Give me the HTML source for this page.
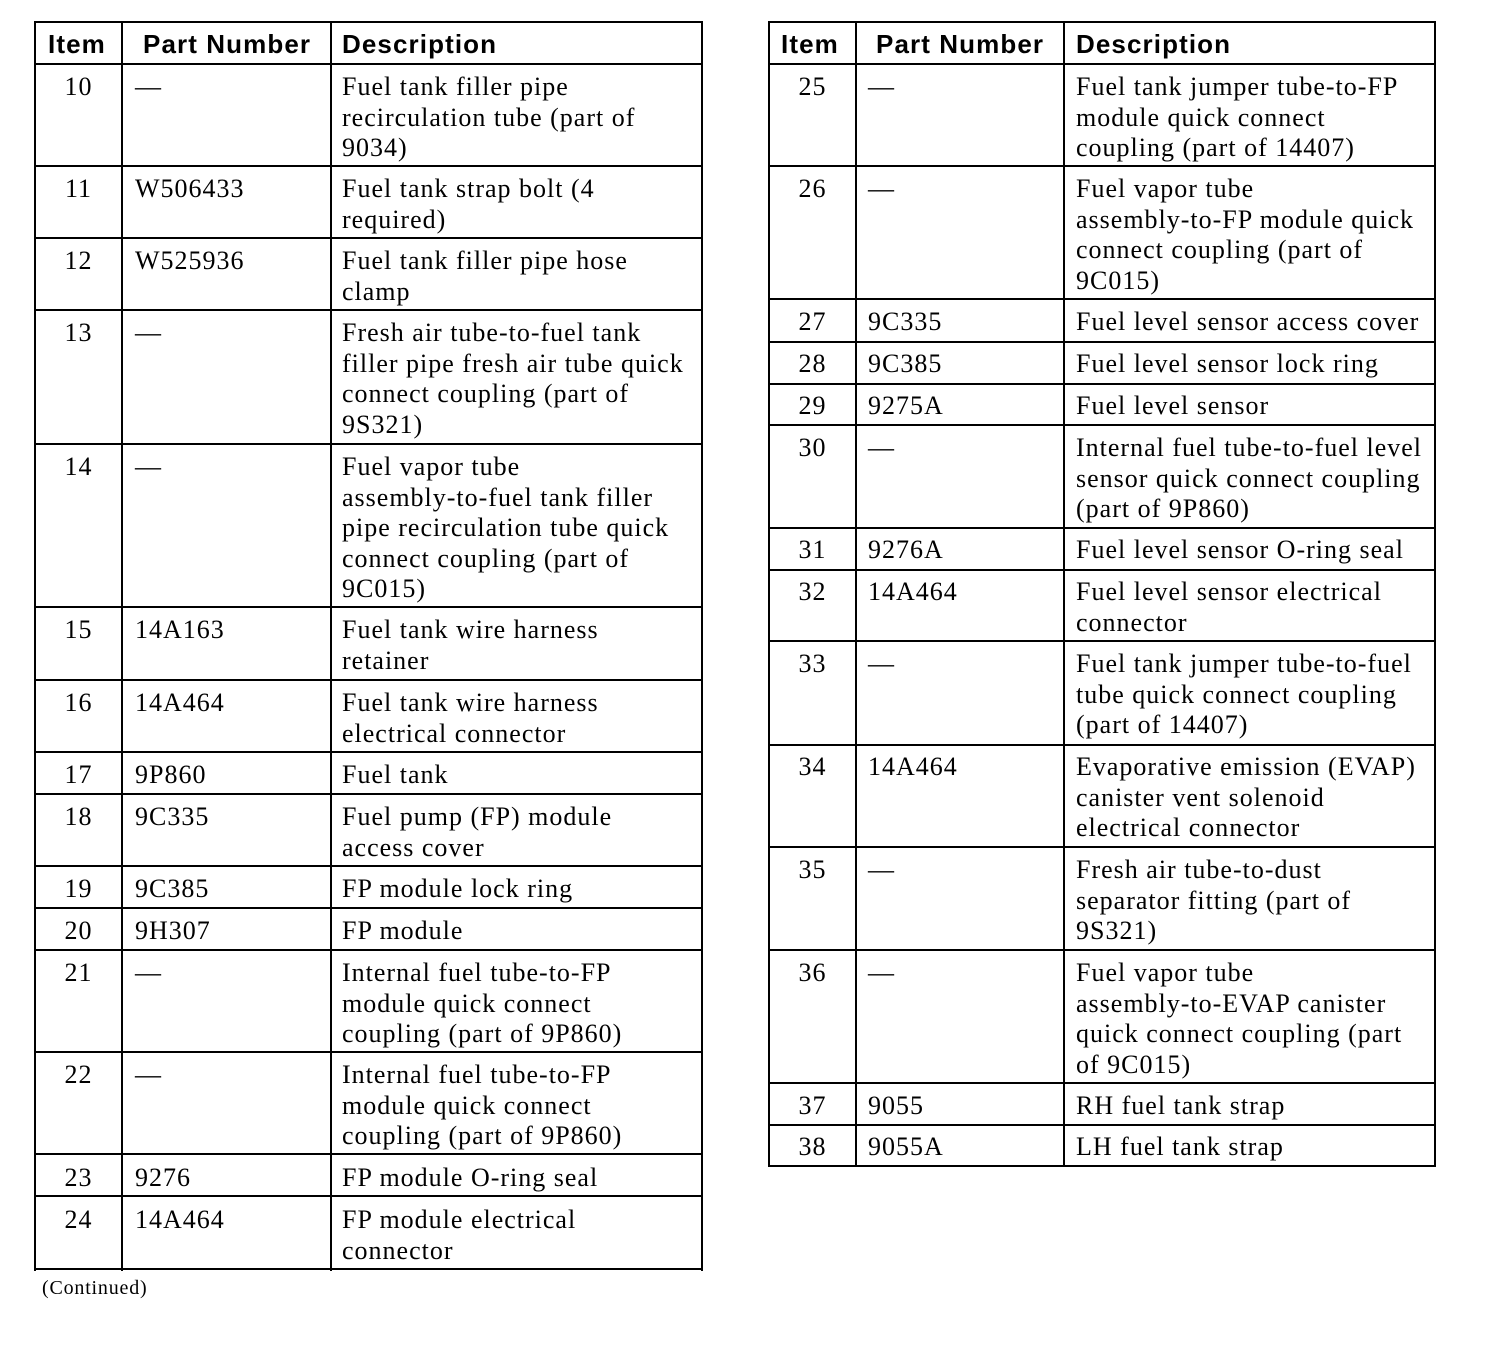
<!DOCTYPE html>
<html><head><meta charset="utf-8">
<style>
body{margin:0;width:1504px;height:1350px;background:#fff;position:relative;overflow:hidden;font-family:"Liberation Serif",serif;color:#000}
.h{position:absolute;height:2px;background:#000}
.v{position:absolute;width:2px;background:#000}
.t{position:absolute;font-size:26px;line-height:30.5px;white-space:nowrap;letter-spacing:1px}
.i{text-align:center;width:87px}
.b{font-family:"Liberation Sans",sans-serif;font-weight:bold;font-size:26px;line-height:30px;letter-spacing:1.1px}
</style></head><body>
<div class="v" style="left:34px;top:21px;height:1250px"></div>
<div class="v" style="left:121px;top:21px;height:1250px"></div>
<div class="v" style="left:330px;top:21px;height:1250px"></div>
<div class="v" style="left:701px;top:21px;height:1250px"></div>
<div class="h" style="left:34px;width:669px;top:21px"></div>
<div class="h" style="left:34px;width:669px;top:63px"></div>
<div class="h" style="left:34px;width:669px;top:165px"></div>
<div class="h" style="left:34px;width:669px;top:237px"></div>
<div class="h" style="left:34px;width:669px;top:309px"></div>
<div class="h" style="left:34px;width:669px;top:443px"></div>
<div class="h" style="left:34px;width:669px;top:606px"></div>
<div class="h" style="left:34px;width:669px;top:679px"></div>
<div class="h" style="left:34px;width:669px;top:751px"></div>
<div class="h" style="left:34px;width:669px;top:793px"></div>
<div class="h" style="left:34px;width:669px;top:865px"></div>
<div class="h" style="left:34px;width:669px;top:907px"></div>
<div class="h" style="left:34px;width:669px;top:949px"></div>
<div class="h" style="left:34px;width:669px;top:1051px"></div>
<div class="h" style="left:34px;width:669px;top:1153px"></div>
<div class="h" style="left:34px;width:669px;top:1195px"></div>
<div class="h" style="left:34px;width:669px;top:1268px"></div>
<div class="v" style="left:768px;top:21px;height:1146px"></div>
<div class="v" style="left:855px;top:21px;height:1146px"></div>
<div class="v" style="left:1063px;top:21px;height:1146px"></div>
<div class="v" style="left:1434px;top:21px;height:1146px"></div>
<div class="h" style="left:768px;width:668px;top:21px"></div>
<div class="h" style="left:768px;width:668px;top:63px"></div>
<div class="h" style="left:768px;width:668px;top:165px"></div>
<div class="h" style="left:768px;width:668px;top:298px"></div>
<div class="h" style="left:768px;width:668px;top:341px"></div>
<div class="h" style="left:768px;width:668px;top:383px"></div>
<div class="h" style="left:768px;width:668px;top:424px"></div>
<div class="h" style="left:768px;width:668px;top:527px"></div>
<div class="h" style="left:768px;width:668px;top:569px"></div>
<div class="h" style="left:768px;width:668px;top:640px"></div>
<div class="h" style="left:768px;width:668px;top:744px"></div>
<div class="h" style="left:768px;width:668px;top:846px"></div>
<div class="h" style="left:768px;width:668px;top:949px"></div>
<div class="h" style="left:768px;width:668px;top:1082px"></div>
<div class="h" style="left:768px;width:668px;top:1124px"></div>
<div class="h" style="left:768px;width:668px;top:1165px"></div>

<div class="t b" style="left:48px;top:29px">Item</div>
<div class="t b" style="left:143px;top:29px">Part Number</div>
<div class="t b" style="left:342px;top:29px">Description</div>
<div class="t b" style="left:781px;top:29px">Item</div>
<div class="t b" style="left:876px;top:29px">Part Number</div>
<div class="t b" style="left:1076px;top:29px">Description</div>

<div class="t i" style="left:35px;top:72px">10</div><div class="t" style="left:135px;top:72px">—</div><div class="t" style="left:342px;top:72px">Fuel tank filler pipe<br>recirculation tube (part of<br>9034)</div>
<div class="t i" style="left:35px;top:174px">11</div><div class="t" style="left:135px;top:174px">W506433</div><div class="t" style="left:342px;top:174px">Fuel tank strap bolt (4<br>required)</div>
<div class="t i" style="left:35px;top:246px">12</div><div class="t" style="left:135px;top:246px">W525936</div><div class="t" style="left:342px;top:246px">Fuel tank filler pipe hose<br>clamp</div>
<div class="t i" style="left:35px;top:318px">13</div><div class="t" style="left:135px;top:318px">—</div><div class="t" style="left:342px;top:318px">Fresh air tube-to-fuel tank<br>filler pipe fresh air tube quick<br>connect coupling (part of<br>9S321)</div>
<div class="t i" style="left:35px;top:452px">14</div><div class="t" style="left:135px;top:452px">—</div><div class="t" style="left:342px;top:452px">Fuel vapor tube<br>assembly-to-fuel tank filler<br>pipe recirculation tube quick<br>connect coupling (part of<br>9C015)</div>
<div class="t i" style="left:35px;top:615px">15</div><div class="t" style="left:135px;top:615px">14A163</div><div class="t" style="left:342px;top:615px">Fuel tank wire harness<br>retainer</div>
<div class="t i" style="left:35px;top:688px">16</div><div class="t" style="left:135px;top:688px">14A464</div><div class="t" style="left:342px;top:688px">Fuel tank wire harness<br>electrical connector</div>
<div class="t i" style="left:35px;top:760px">17</div><div class="t" style="left:135px;top:760px">9P860</div><div class="t" style="left:342px;top:760px">Fuel tank</div>
<div class="t i" style="left:35px;top:802px">18</div><div class="t" style="left:135px;top:802px">9C335</div><div class="t" style="left:342px;top:802px">Fuel pump (FP) module<br>access cover</div>
<div class="t i" style="left:35px;top:874px">19</div><div class="t" style="left:135px;top:874px">9C385</div><div class="t" style="left:342px;top:874px">FP module lock ring</div>
<div class="t i" style="left:35px;top:916px">20</div><div class="t" style="left:135px;top:916px">9H307</div><div class="t" style="left:342px;top:916px">FP module</div>
<div class="t i" style="left:35px;top:958px">21</div><div class="t" style="left:135px;top:958px">—</div><div class="t" style="left:342px;top:958px">Internal fuel tube-to-FP<br>module quick connect<br>coupling (part of 9P860)</div>
<div class="t i" style="left:35px;top:1060px">22</div><div class="t" style="left:135px;top:1060px">—</div><div class="t" style="left:342px;top:1060px">Internal fuel tube-to-FP<br>module quick connect<br>coupling (part of 9P860)</div>
<div class="t i" style="left:35px;top:1163px">23</div><div class="t" style="left:135px;top:1163px">9276</div><div class="t" style="left:342px;top:1163px">FP module O-ring seal</div>
<div class="t i" style="left:35px;top:1205px">24</div><div class="t" style="left:135px;top:1205px">14A464</div><div class="t" style="left:342px;top:1205px">FP module electrical<br>connector</div>
<div class="t" style="left:42px;top:1276px;font-size:20px;line-height:24px;letter-spacing:0.8px">(Continued)</div>

<div class="t i" style="left:769px;top:72px">25</div><div class="t" style="left:868px;top:72px">—</div><div class="t" style="left:1076px;top:72px">Fuel tank jumper tube-to-FP<br>module quick connect<br>coupling (part of 14407)</div>
<div class="t i" style="left:769px;top:174px">26</div><div class="t" style="left:868px;top:174px">—</div><div class="t" style="left:1076px;top:174px">Fuel vapor tube<br>assembly-to-FP module quick<br>connect coupling (part of<br>9C015)</div>
<div class="t i" style="left:769px;top:307px">27</div><div class="t" style="left:868px;top:307px">9C335</div><div class="t" style="left:1076px;top:307px">Fuel level sensor access cover</div>
<div class="t i" style="left:769px;top:349px">28</div><div class="t" style="left:868px;top:349px">9C385</div><div class="t" style="left:1076px;top:349px">Fuel level sensor lock ring</div>
<div class="t i" style="left:769px;top:391px">29</div><div class="t" style="left:868px;top:391px">9275A</div><div class="t" style="left:1076px;top:391px">Fuel level sensor</div>
<div class="t i" style="left:769px;top:433px">30</div><div class="t" style="left:868px;top:433px">—</div><div class="t" style="left:1076px;top:433px">Internal fuel tube-to-fuel level<br>sensor quick connect coupling<br>(part of 9P860)</div>
<div class="t i" style="left:769px;top:535px">31</div><div class="t" style="left:868px;top:535px">9276A</div><div class="t" style="left:1076px;top:535px">Fuel level sensor O-ring seal</div>
<div class="t i" style="left:769px;top:577px">32</div><div class="t" style="left:868px;top:577px">14A464</div><div class="t" style="left:1076px;top:577px">Fuel level sensor electrical<br>connector</div>
<div class="t i" style="left:769px;top:649px">33</div><div class="t" style="left:868px;top:649px">—</div><div class="t" style="left:1076px;top:649px">Fuel tank jumper tube-to-fuel<br>tube quick connect coupling<br>(part of 14407)</div>
<div class="t i" style="left:769px;top:752px">34</div><div class="t" style="left:868px;top:752px">14A464</div><div class="t" style="left:1076px;top:752px">Evaporative emission (EVAP)<br>canister vent solenoid<br>electrical connector</div>
<div class="t i" style="left:769px;top:855px">35</div><div class="t" style="left:868px;top:855px">—</div><div class="t" style="left:1076px;top:855px">Fresh air tube-to-dust<br>separator fitting (part of<br>9S321)</div>
<div class="t i" style="left:769px;top:958px">36</div><div class="t" style="left:868px;top:958px">—</div><div class="t" style="left:1076px;top:958px">Fuel vapor tube<br>assembly-to-EVAP canister<br>quick connect coupling (part<br>of 9C015)</div>
<div class="t i" style="left:769px;top:1091px">37</div><div class="t" style="left:868px;top:1091px">9055</div><div class="t" style="left:1076px;top:1091px">RH fuel tank strap</div>
<div class="t i" style="left:769px;top:1132px">38</div><div class="t" style="left:868px;top:1132px">9055A</div><div class="t" style="left:1076px;top:1132px">LH fuel tank strap</div>
</body></html>
